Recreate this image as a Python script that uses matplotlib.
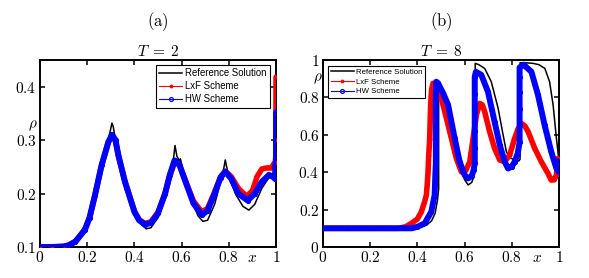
import numpy as np
import matplotlib
matplotlib.use("Agg")
import matplotlib.pyplot as plt

plt.rcParams['mathtext.fontset'] = 'cm'
plt.rcParams['font.family'] = ['Liberation Sans', 'DejaVu Sans']

# ---------------- panel (a), T = 2 ----------------
ref_a_x = [0, 0.05, 0.10, 0.13, 0.16, 0.19, 0.22, 0.25, 0.27, 0.29, 0.30, 0.305, 0.31, 0.32,
           0.34, 0.37, 0.40, 0.43, 0.45, 0.47, 0.50, 0.53, 0.55, 0.565, 0.572, 0.58, 0.59,
           0.595, 0.61, 0.64, 0.67, 0.69, 0.71, 0.74, 0.765, 0.78, 0.785, 0.79, 0.80, 0.83,
           0.86, 0.885, 0.91, 0.94, 0.97, 0.99, 1.0]
ref_a_y = [0.100, 0.100, 0.102, 0.108, 0.120, 0.140, 0.175, 0.225, 0.262, 0.302, 0.322, 0.332,
           0.326, 0.300, 0.258, 0.208, 0.168, 0.142, 0.134, 0.136, 0.155, 0.190, 0.225, 0.262,
           0.290, 0.270, 0.262, 0.265, 0.236, 0.190, 0.158, 0.148, 0.150, 0.180, 0.222, 0.250,
           0.263, 0.252, 0.232, 0.198, 0.176, 0.169, 0.180, 0.210, 0.230, 0.228, 0.224]

lxf_a_x = [0, 0.05, 0.10, 0.12, 0.15, 0.19, 0.21, 0.233, 0.261, 0.29, 0.305, 0.32, 0.332, 0.36,
           0.40, 0.42, 0.445, 0.47, 0.50, 0.53, 0.55, 0.57, 0.59, 0.62, 0.65, 0.685, 0.71, 0.74,
           0.765, 0.785, 0.81, 0.84, 0.875, 0.90, 0.92, 0.94, 0.96, 0.98, 0.99, 1.0, 1.0, 1.0]
lxf_a_y = [0.100, 0.100, 0.101, 0.103, 0.110, 0.132, 0.155, 0.197, 0.253, 0.297, 0.308, 0.298,
           0.271, 0.222, 0.167, 0.151, 0.144, 0.147, 0.165, 0.200, 0.233, 0.258, 0.254, 0.220,
           0.186, 0.166, 0.172, 0.203, 0.231, 0.242, 0.232, 0.210, 0.195, 0.205, 0.232, 0.246,
           0.248, 0.248, 0.255, 0.260, 0.300, 0.418]

hw_a_x = [0, 0.05, 0.10, 0.12, 0.15, 0.19, 0.21, 0.233, 0.261, 0.29, 0.305, 0.32, 0.332, 0.36,
          0.40, 0.42, 0.445, 0.47, 0.50, 0.53, 0.55, 0.57, 0.59, 0.62, 0.65, 0.685, 0.71, 0.74,
          0.765, 0.785, 0.81, 0.84, 0.88, 0.91, 0.94, 0.97, 0.985, 0.995, 1.0, 1.0]
hw_a_y = [0.100, 0.100, 0.101, 0.103, 0.110, 0.132, 0.155, 0.197, 0.253, 0.297, 0.310, 0.300,
          0.272, 0.222, 0.166, 0.150, 0.142, 0.145, 0.163, 0.200, 0.235, 0.262, 0.255, 0.218,
          0.182, 0.160, 0.168, 0.200, 0.230, 0.241, 0.228, 0.200, 0.187, 0.200, 0.222, 0.235,
          0.232, 0.228, 0.272, 0.352]

# ---------------- panel (b), T = 8 ----------------
ref_b_x = [0, 0.1, 0.2, 0.3, 0.38, 0.42, 0.44, 0.46, 0.475, 0.485, 0.49, 0.49, 0.50, 0.53,
           0.56, 0.58, 0.60, 0.615, 0.63, 0.64, 0.645, 0.645, 0.66, 0.685, 0.713, 0.742, 0.763,
           0.777, 0.79, 0.81, 0.83, 0.835, 0.835, 0.86, 0.89, 0.915, 0.94, 0.96, 0.975, 0.989, 1.0]
ref_b_y = [0.1, 0.1, 0.1, 0.1, 0.102, 0.108, 0.118, 0.140, 0.18, 0.25, 0.31, 0.87, 0.86, 0.76,
           0.57, 0.44, 0.36, 0.332, 0.345, 0.38, 0.45, 0.982, 0.975, 0.955, 0.884, 0.742, 0.60,
           0.51, 0.48, 0.465, 0.46, 0.47, 0.985, 0.985, 0.982, 0.975, 0.955, 0.884, 0.76, 0.581, 0.46]

lxf_b_x = [0, 0.1, 0.2, 0.3, 0.318, 0.35, 0.375, 0.40, 0.417, 0.43, 0.438, 0.442, 0.445, 0.448,
           0.452, 0.454, 0.456, 0.46, 0.466, 0.475, 0.487, 0.50, 0.516, 0.544, 0.565, 0.586,
           0.593, 0.605, 0.622, 0.636, 0.65, 0.664, 0.675, 0.685, 0.706, 0.727, 0.749, 0.77,
           0.791, 0.812, 0.826, 0.84, 0.855, 0.869, 0.897, 0.925, 0.953, 0.967, 0.98, 0.989, 0.996]
lxf_b_y = [0.1, 0.1, 0.1, 0.1, 0.10, 0.108, 0.127, 0.150, 0.189, 0.24, 0.278, 0.34, 0.40, 0.49,
           0.58, 0.67, 0.76, 0.84, 0.875, 0.87, 0.849, 0.80, 0.724, 0.581, 0.474, 0.403, 0.40,
           0.41, 0.456, 0.581, 0.706, 0.768, 0.76, 0.724, 0.617, 0.528, 0.465, 0.456, 0.492,
           0.581, 0.63, 0.661, 0.648, 0.617, 0.528, 0.456, 0.394, 0.358, 0.36, 0.385, 0.474]

hw_b_x = [0, 0.1, 0.2, 0.3, 0.375, 0.40, 0.431, 0.459, 0.473, 0.476, 0.478, 0.478, 0.478, 0.478,
          0.478, 0.48, 0.487, 0.51, 0.53, 0.558, 0.579, 0.60, 0.614, 0.63, 0.638, 0.643, 0.643,
          0.643, 0.643, 0.643, 0.643, 0.648, 0.671, 0.699, 0.727, 0.749, 0.77, 0.784, 0.80,
          0.812, 0.825, 0.833, 0.833, 0.833, 0.833, 0.833, 0.833, 0.85, 0.883, 0.911, 0.939,
          0.967, 0.989, 1.0, 1.0]
hw_b_y = [0.1, 0.1, 0.1, 0.1, 0.10, 0.108, 0.127, 0.189, 0.278, 0.385, 0.45, 0.53, 0.62, 0.71,
          0.80, 0.884, 0.877, 0.82, 0.76, 0.581, 0.456, 0.385, 0.367, 0.38, 0.41, 0.45, 0.53,
          0.62, 0.72, 0.82, 0.91, 0.937, 0.92, 0.83, 0.67, 0.545, 0.456, 0.42, 0.43, 0.456,
          0.50, 0.56, 0.65, 0.74, 0.83, 0.91, 0.96, 0.975, 0.937, 0.813, 0.652, 0.51, 0.42,
          0.40, 0.46]

xticks = [0, 0.2, 0.4, 0.6, 0.8, 1]
xticklabels = ['$0$', '$0.2$', '$0.4$', '$0.6$', '$0.8$', '$1$']
yticks_a = [0.1, 0.2, 0.3, 0.4]
yticklabels_a = ['$0.1$', '$0.2$', '$0.3$', '$0.4$']
yticks_b = [0, 0.2, 0.4, 0.6, 0.8, 1]
yticklabels_b = ['$0$', '$0.2$', '$0.4$', '$0.6$', '$0.8$', '$1$']
labels = ['Reference Solution', 'LxF Scheme', 'HW Scheme']

fig = plt.figure(figsize=(5.89, 2.78), dpi=100)
ax1 = fig.add_axes([40/589, 31/278, 236/589, 187/278])
ax2 = fig.add_axes([323/589, 31/278, 236/589, 187/278])


def draw(ax, rx, ry, lx, ly, hx, hy):
    ax.plot(rx, ry, color='k', lw=1.1, label=labels[0], zorder=2)
    # thick underlay stands in for the densely packed markers
    ax.plot(lx, ly, color='#ff0000', lw=4.0, solid_joinstyle='round',
            solid_capstyle='round', zorder=3)
    ax.plot(lx, ly, '.-', color='#ff0000', lw=0.8, ms=3.5, label=labels[1], zorder=3)
    ax.plot(hx, hy, color='#0000ff', lw=4.3, solid_joinstyle='round',
            solid_capstyle='round', zorder=4)
    ax.plot(hx, hy, 'o-', color='#0000ff', lw=0.8, ms=2.8, mfc='none', mew=0.9,
            label=labels[2], zorder=4)


def style(ax):
    ax.set_xlim(0, 1)
    ax.set_xticks(xticks)
    ax.set_xticklabels(xticklabels, fontsize=11)
    ax.tick_params(direction='in', top=True, right=True, length=3.5, width=1.1, pad=2.5)
    for s in ax.spines.values():
        s.set_linewidth(1.4)


draw(ax1, ref_a_x, ref_a_y, lxf_a_x, lxf_a_y, hw_a_x, hw_a_y)
style(ax1)
ax1.set_ylim(0.1, 0.45)
ax1.set_yticks(yticks_a)
ax1.set_yticklabels(yticklabels_a, fontsize=11)
ax1.set_title('$T\\;=\\;2$', fontsize=11, pad=3)
ax1.text(0.9, -0.06, '$x$', transform=ax1.transAxes, fontsize=11, ha='center', va='center')
ax1.text(-0.03, 0.65, r'$\rho$', transform=ax1.transAxes, fontsize=11, ha='center', va='center')
leg = ax1.legend(loc='upper right', bbox_to_anchor=(0.975, 0.973), borderaxespad=0,
                 fontsize=6.9, handlelength=2.4, handletextpad=0.3, labelspacing=0.3,
                 borderpad=0.35, fancybox=False, edgecolor='k', framealpha=1)
leg.get_frame().set_linewidth(0.8)

draw(ax2, ref_b_x, ref_b_y, lxf_b_x, lxf_b_y, hw_b_x, hw_b_y)
style(ax2)
ax2.set_ylim(0, 1)
ax2.set_yticks(yticks_b)
ax2.set_yticklabels(yticklabels_b, fontsize=11)
ax2.set_title('$T\\;=\\;8$', fontsize=11, pad=3)
ax2.text(0.905, -0.06, '$x$', transform=ax2.transAxes, fontsize=11, ha='center', va='center')
ax2.text(-0.02, 0.9, r'$\rho$', transform=ax2.transAxes, fontsize=11, ha='center', va='center')
leg = ax2.legend(loc='upper left', bbox_to_anchor=(0.021, 0.97), borderaxespad=0,
                 fontsize=5.6, handlelength=3.0, handletextpad=0.3, labelspacing=0.3,
                 borderpad=0.35, fancybox=False, edgecolor='k', framealpha=1)
leg.get_frame().set_linewidth(0.8)

fig.text(158/589, 1 - 22/278, r'$\mathrm{(a)}$', fontsize=12, ha='center', va='center')
fig.text(441/589, 1 - 22/278, r'$\mathrm{(b)}$', fontsize=12, ha='center', va='center')

fig.savefig('out.png', dpi=100)
